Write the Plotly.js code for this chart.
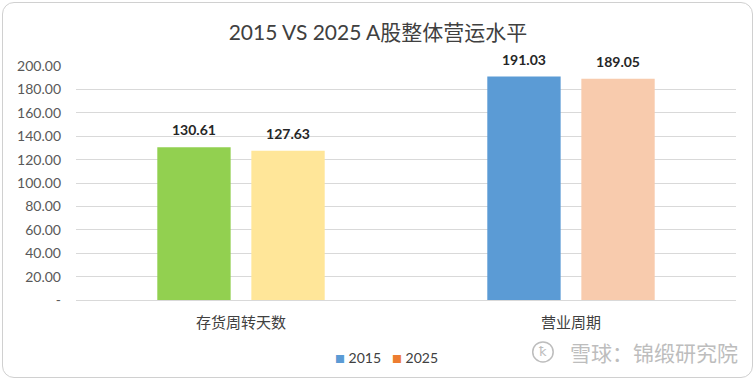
<!DOCTYPE html>
<html>
<head>
<meta charset="utf-8">
<script src="https://cdn.plot.ly/plotly-3.0.1.min.js"></script>
<style>
  html, body { margin: 0; padding: 0; background: #ffffff; }
  #wrap { position: relative; width: 756px; height: 381px; }
  #chart { position: absolute; left: 0; top: 0; width: 756px; height: 381px; }
  #frame { position: absolute; left: 2px; top: 2px; width: 751px; height: 376px;
           border: 1px solid #d0d0d0; border-radius: 12px; pointer-events: none; box-sizing: border-box; }
</style>
</head>
<body>
<div id="wrap">
  <div id="chart"></div>
  <div id="frame"></div>
</div>
<script>
// ---- data ----
const categories = ["存货周转天数", "营业周期"];
const seriesNames = ["2015", "2025"];
const values2015 = [130.61, 191.03];
const values2025 = [127.63, 189.05];
const colors2015 = ["#92d050", "#5b9bd5"];
const colors2025 = ["#ffe699", "#f8cbad"];
const legendColors = ["#5b9bd5", "#ed7d31"];
const yTickVals = [0, 20, 40, 60, 80, 100, 120, 140, 160, 180, 200];
const yTickText = ["-", "20.00", "40.00", "60.00", "80.00", "100.00", "120.00", "140.00", "160.00", "180.00", "200.00"];
const titleText = "2015 VS 2025 A股整体营运水平";
const watermark = "雪球：锦缎研究院";

const fontFam = "Lato, 'Noto Sans CJK SC', sans-serif";
const labelFont = { family: fontFam, size: 14, color: "#262626", weight: "bold" };

const seriesVals = [values2015, values2025];
const seriesColors = [colors2015, colors2025];

const traces = [];
seriesVals.forEach((vals, i) => {
  traces.push({
    type: "bar", name: seriesNames[i], x: categories, y: vals,
    marker: { color: seriesColors[i] }, showlegend: false,
    offsetgroup: "g" + i
  });
});
// value labels, aligned with the grouped bars
seriesVals.forEach((vals, i) => {
  traces.push({
    type: "scatter", mode: "markers+text", name: seriesNames[i] + " 标签",
    x: categories, y: vals,
    text: vals.map(v => v.toFixed(2)), textposition: "top center",
    textfont: labelFont, cliponaxis: false,
    marker: { size: 12, opacity: 0 }, showlegend: false,
    offsetgroup: "g" + i
  });
});

// legend built as text items (small coloured squares like the original)
const legendX = [0.389, 0.475];
const legendAnn = seriesNames.map((n, i) => ({
  text: "<span style='color:" + legendColors[i] + ";font-size:10px'>■</span> " + n,
  xref: "paper", yref: "paper", x: legendX[i], xanchor: "left",
  y: -0.244, yanchor: "middle", showarrow: false,
  font: { family: fontFam, size: 14, color: "#404040" }
}));

const layout = {
  width: 756, height: 381,
  margin: { l: 76, r: 20, t: 66, b: 81 },
  paper_bgcolor: "rgba(0,0,0,0)",
  plot_bgcolor: "#ffffff",
  font: { family: fontFam, color: "#595959", size: 13 },
  title: {
    text: titleText,
    font: { family: fontFam, size: 21, color: "#404040" },
    x: 0.5, xanchor: "center", xref: "container",
    y: 30, yref: "container", yanchor: "middle"
  },
  barmode: "group",
  bargap: 0.43,
  bargroupgap: 0.22,
  scattermode: "group",
  scattergap: 0.43,
  xaxis: {
    type: "category",
    tickfont: { family: fontFam, size: 15, color: "#404040" },
    showgrid: false, showline: false, ticks: "", ticklabelstandoff: 12,
    zeroline: false, fixedrange: true
  },
  yaxis: {
    range: [0, 200],
    tickvals: yTickVals, ticktext: yTickText,
    tickfont: { family: fontFam, size: 14, color: "#595959" },
    showgrid: true, gridcolor: "#d9d9d9", gridwidth: 1,
    zeroline: true, zerolinecolor: "#d9d9d9", zerolinewidth: 1,
    showline: false, ticks: "", ticklabelstandoff: 14, fixedrange: true
  },
  showlegend: false,
  annotations: legendAnn.concat([
    {
      text: watermark, xref: "paper", yref: "paper",
      x: 1.006, xanchor: "right", y: -0.222, yanchor: "middle",
      showarrow: false,
      font: { family: "'Noto Sans CJK SC', sans-serif", size: 21, color: "#bdbdbd" }
    },
    {
      text: "ꝁ", xref: "paper", yref: "paper",
      x: 0.7075, xanchor: "center", y: -0.222, yanchor: "middle",
      showarrow: false,
      font: { family: "'DejaVu Sans', sans-serif", size: 13, color: "#bdbdbd" }
    }
  ]),
  shapes: [
    {
      type: "circle", xref: "paper", yref: "paper",
      x0: 0.692, x1: 0.723, y0: -0.265, y1: -0.179,
      line: { color: "#bdbdbd", width: 1.5 }, fillcolor: "rgba(0,0,0,0)"
    }
  ]
};

Plotly.newPlot("chart", traces, layout, { staticPlot: true, displayModeBar: false });
</script>
</body>
</html>
